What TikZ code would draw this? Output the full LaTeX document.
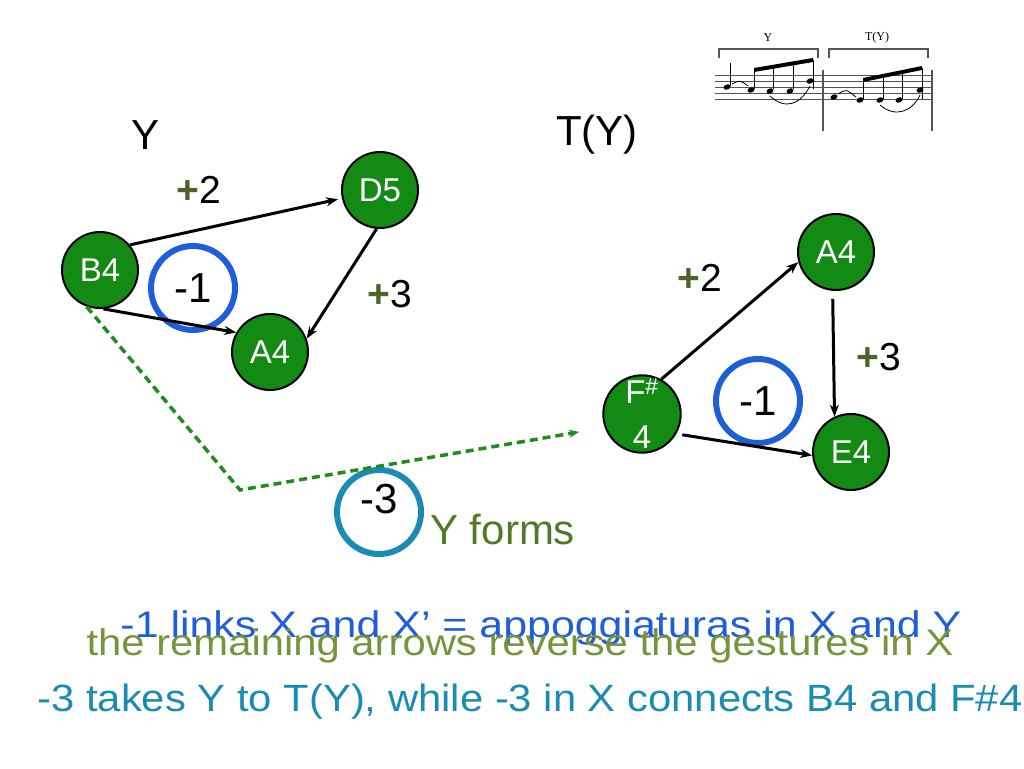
\documentclass[tikz,border=0pt]{standalone}
\usepackage{fontspec}
\setmainfont{Liberation Sans}
\newfontfamily\scorefont{Liberation Serif}
\usetikzlibrary{arrows.meta, positioning}
\definecolor{cnote}{HTML}{138A13}
\definecolor{cblue}{HTML}{1E5FD8}
\definecolor{cteal}{HTML}{1A8CB4}
\definecolor{cplus}{HTML}{4F6228}
\definecolor{cforms}{HTML}{4F7A28}
\definecolor{colive}{HTML}{77933C}
\definecolor{cdash}{HTML}{1E8C1E}
\definecolor{cstaff}{HTML}{555555}
\newcommand{\gplus}{{\color{cplus}\bfseries+}}
\tikzset{
  every picture/.style={line width=2pt},
  note/.style={circle, draw=black, fill=cnote, text=white, minimum size=76pt, inner sep=0pt, align=center, font=\fontsize{33}{45}\selectfont},
  ring/.style={circle, draw=#1, line width=6pt, minimum size=84pt, inner sep=0pt, font=\fontsize{42}{44}\selectfont},
  ring/.default=cblue,
  arrow/.style={-{Stealth[length=12pt, width=9pt]}, draw=black, line width=3pt},
  dashline/.style={-{Stealth[length=10pt, width=8pt]}, draw=cdash, line width=3.5pt, dash pattern=on 8pt off 5pt},
  title/.style={font=\fontsize{42}{44}\selectfont},
  lbl/.style={font=\fontsize{39}{40}\selectfont},
  caption/.style={anchor=base, text=#1},
}
\begin{document}
\begin{tikzpicture}[x=1pt, y=-1pt]
  \useasboundingbox (0,0) rectangle (1024,768);
  % Y
  \node[title] (ylab) at (146,135) {Y};
  \node[note] (b4) at (100,270) {B4};
  \node[note] (d5) at (380,190) {D5};
  \node[note] (a4) at (270,352) {A4};
  \node[ring] (m1) at (193,288) {-1};
  \draw[arrow, shorten >=4pt] (b4.40) -- (d5);
  \draw[arrow] (b4.-85) -- (a4.150);
  \draw[arrow] (d5.-95) -- (a4.20);
  \node[lbl] (p2) at (199,190) {\gplus2};
  \node[lbl] (p3) at (390,294) {\gplus3};
  % T(Y)
  \node[title] (tylab) at (597,135) {T(Y)};
  \node[note] (fs4) at (642,414) {F\textsuperscript{\#}\\4};
  \node[note] (a4r) at (836,252) {A4};
  \node[note] (e4) at (851,452) {E4};
  \node[ring] (m1r) at (758,401) {-1};
  \draw[arrow] (fs4.61) -- (a4r.195);
  \draw[arrow, shorten <=8pt] (a4r.-95) -- (e4.115);
  \draw[arrow, shorten <=6pt] (fs4.-30) -- (e4.185);
  \node[lbl] (p2r) at (700,278) {\gplus2};
  \node[lbl] (p3r) at (879,357) {\gplus3};
  % Y forms
  \node[ring=cteal, text height=28pt, text depth=26pt] (m3) at (379,512) {-3};
  \node[title, text=cforms, anchor=west] (yforms) at (426,530) {Y forms};
  \coordinate (bend) at (240,490);
  \draw[dashline, shorten >=26pt] (b4.-110) -- (bend) -- (fs4.200);
  % score
  \begin{scope}[line width=0.8pt, draw=cstaff]
    \foreach \s in {75,81,87,93,99} \draw[cstaff] (715,\s) -- (932,\s);
    \draw[cstaff, line width=1.2pt] (823,70) -- (823,131);
    \draw[cstaff, line width=1.2pt] (932,70) -- (932,131);
    \draw[cstaff, line width=1.5pt] (719,58) -- (719,49) -- (818,49) -- (818,58);
    \draw[cstaff, line width=1.5pt] (829,58) -- (829,49) -- (928,49) -- (928,58);
    \node[font=\scorefont\fontsize{12}{12}\selectfont] (sy) at (768,38) {Y};
    \node[font=\scorefont\fontsize{12}{12}\selectfont] (sty) at (877,38) {T(Y)};
    \foreach \x/\y in {727/87,751/90,770/91,790/91,810/81,834/97,860/100,880/100,899/100,920/90}
      \fill[black, rotate around={20:(\x,\y)}] (\x,\y) ellipse (3.6pt and 2.6pt);
    \draw[black] (730,86) -- (730,63);
    \foreach \x/\t in {754/70,773/67,793/64,813/60} \draw[black] (\x,89) -- (\x,\t);
    \fill[black] (754,68) -- (813,58) -- (813,62) -- (754,72) -- cycle;
    \foreach \x/\t in {863/80,883/76,902/73,922/68} \draw[black] (\x,99) -- (\x,\t);
    \fill[black] (863,78) -- (922,66) -- (922,70) -- (863,82) -- cycle;
    \draw[black] (732,84) .. controls (740,80) .. (748,86);
    \draw[black] (838,94) .. controls (846,89) .. (856,97);
    \draw[black] (770,96) .. controls (785,110) and (800,105) .. (810,86);
    \draw[black] (880,105) .. controls (895,118) and (912,112) .. (920,95);
  \end{scope}
  % captions
  \node[caption=cblue, font=\fontsize{37}{38}\selectfont, xscale=1.16] (cap1) at (541,637) {-1 links X and X’ = appoggiaturas in X and Y};
  \node[caption=colive, font=\fontsize{37}{38}\selectfont, xscale=1.13] (cap2) at (520,655) {the remaining arrows reverse the gestures in X};
  \node[caption=cteal, font=\fontsize{38}{40}\selectfont, xscale=1.10] (cap3) at (530,711) {-3 takes Y to T(Y), while -3 in X connects B4 and F\#4};
\end{tikzpicture}
\end{document}
